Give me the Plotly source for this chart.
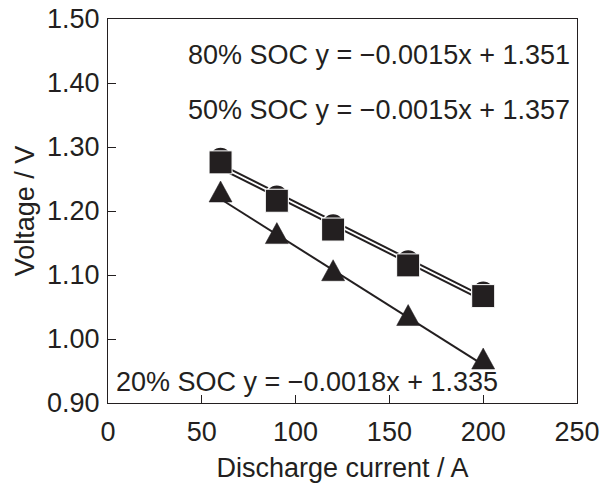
import numpy as np
import plotly.graph_objects as go

current = [60, 90, 120, 160, 200]
soc80_v = [1.282, 1.223, 1.178, 1.122, 1.073]
soc50_v = [1.276, 1.216, 1.171, 1.115, 1.067]
soc20_v = [1.225, 1.160, 1.102, 1.032, 0.964]

x_ticks = [0, 50, 100, 150, 200, 250]
y_ticks = [0.90, 1.00, 1.10, 1.20, 1.30, 1.40, 1.50]

eq_texts = [
    "80% SOC y = \u22120.0015x + 1.351",
    "50% SOC y = \u22120.0015x + 1.357",
    "20% SOC y = \u22120.0018x + 1.335",
]

INK = "#231f20"
FONT = "Liberation Sans, Arial, Helvetica, sans-serif"
FS = 27

fig = go.Figure()


def fit_line(xs, ys):
    k, b = np.polyfit(xs, ys, 1)
    xx = [min(xs), max(xs)]
    return xx, [k * v + b for v in xx]


# trend lines (black with white casing)
for ys in (soc80_v, soc50_v, soc20_v):
    lx, ly = fit_line(current, ys)
    fig.add_trace(go.Scatter(x=lx, y=ly, mode="lines",
                             line=dict(color="white", width=4.5),
                             hoverinfo="skip", showlegend=False))
    fig.add_trace(go.Scatter(x=lx, y=ly, mode="lines",
                             line=dict(color=INK, width=2),
                             hoverinfo="skip", showlegend=False))

# 80% SOC circles (behind), 50% SOC squares (front)
fig.add_trace(go.Scatter(x=current, y=soc80_v, mode="markers", name="80% SOC",
                         marker=dict(symbol="circle", size=23, color=INK,
                                     line=dict(color="white", width=1.5)),
                         showlegend=False))
fig.add_trace(go.Scatter(x=current, y=soc50_v, mode="markers", name="50% SOC",
                         marker=dict(symbol="square", size=23, color=INK,
                                     line=dict(color="white", width=1)),
                         showlegend=False))

# 20% SOC triangles (equilateral-ish, pixel-sized shapes anchored at data)
for cx, cy in zip(current, soc20_v):
    fig.add_shape(type="path", xref="x", yref="y",
                  xsizemode="pixel", ysizemode="pixel",
                  xanchor=cx, yanchor=cy,
                  path="M -11.5,-7 L 11.5,-7 L 0,14 Z",
                  fillcolor=INK, line=dict(color=INK, width=0.5))

ann_pos = [(0.166, 0.906), (0.166, 0.763), (0.012, 0.055)]
for txt, (ax, ay) in zip(eq_texts, ann_pos):
    fig.add_annotation(x=ax, y=ay, xref="paper", yref="paper",
                       text=txt, showarrow=False, xanchor="left", yanchor="middle",
                       font=dict(family=FONT, size=FS, color=INK))

axis_common = dict(showline=True, linecolor=INK, linewidth=1.3, mirror=True,
                   ticks="inside", ticklen=8, tickwidth=1.3, tickcolor=INK,
                   showgrid=False, zeroline=False, automargin=False,
                   tickfont=dict(family=FONT, size=FS, color=INK))

fig.update_layout(
    width=610, height=484,
    margin=dict(l=108, r=33, t=19, b=81),
    plot_bgcolor="white", paper_bgcolor="white",
    font=dict(family=FONT, size=FS, color=INK),
    xaxis=dict(range=[0, 250], tickvals=x_ticks, ticklabelstandoff=4,
               title=dict(text="Discharge current / A", standoff=12,
                          font=dict(family=FONT, size=FS, color=INK)),
               **axis_common),
    yaxis=dict(range=[0.90, 1.50], tickvals=y_ticks, ticklabelstandoff=2,
               ticktext=[f"{v:.2f}" for v in y_ticks],
               title=dict(text="Voltage / V", standoff=4,
                          font=dict(family=FONT, size=FS, color=INK)),
               **axis_common),
)

fig.write_html("out.html")
